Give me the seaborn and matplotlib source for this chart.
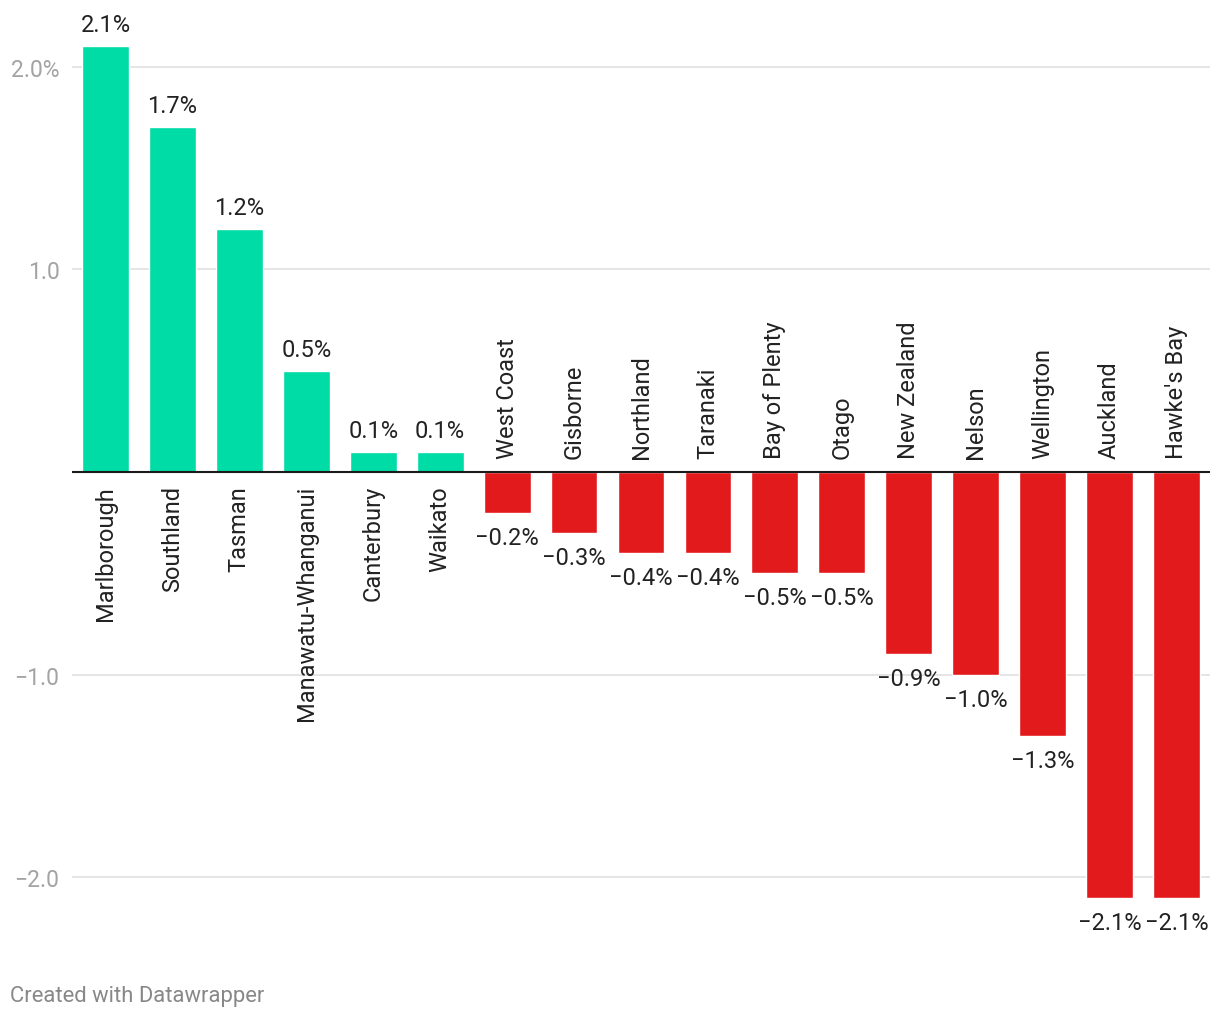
import matplotlib
matplotlib.use("Agg")
import matplotlib.pyplot as plt
import seaborn as sns
import pandas as pd

regions = ["Marlborough", "Southland", "Tasman", "Manawatu-Whanganui", "Canterbury",
           "Waikato", "West Coast", "Gisborne", "Northland", "Taranaki", "Bay of Plenty",
           "Otago", "New Zealand", "Nelson", "Wellington", "Auckland", "Hawke's Bay"]
values = [2.1, 1.7, 1.2, 0.5, 0.1, 0.1, -0.2, -0.3, -0.4, -0.4, -0.5, -0.5,
          -0.9, -1.0, -1.3, -2.1, -2.1]
ytick_vals = [-2.0, -1.0, 1.0, 2.0]
ytick_labels = ["\u22122.0", "\u22121.0", "1.0", "2.0%"]

GREEN = "#00dca6"
RED = "#e31a1c"

sns.set_theme(style="white")
plt.rcParams['font.family'] = ['Roboto', 'DejaVu Sans']

df = pd.DataFrame({"region": regions, "value": values})
df["sign"] = ["pos" if v >= 0 else "neg" for v in values]

fig = plt.figure(figsize=(12.2, 10.2), dpi=100)
ax = fig.add_axes([72 / 1220, 80 / 1020, (1210 - 72) / 1220, (1012 - 80) / 1020])

sns.barplot(data=df, x="region", y="value", hue="sign",
            palette={"pos": GREEN, "neg": RED}, width=0.70,
            dodge=False, legend=False, ax=ax, saturation=1)

unit = 202.7
ax.set_ylim(-(940 - 473) / unit, (473 - 8) / unit)
ax.set_xlim(-0.5, len(regions) - 0.5)

ax.set_yticks(ytick_vals)
ax.set_yticklabels(ytick_labels)
ax.tick_params(axis="y", length=0, pad=9, labelsize=16.5, labelcolor="#a3a3a3")
ax.set_xticks([])
ax.set_xlabel("")
ax.set_ylabel("")
for s in ax.spines.values():
    s.set_visible(False)
for yv in ytick_vals:
    ax.axhline(yv, color="#e3e3e3", lw=1.3, zorder=0)
ax.axhline(0, color="#1a1a1a", lw=1.5, zorder=3)

FS = 17
px = 1.0 / unit
for i, (r, v) in enumerate(zip(regions, values)):
    lab = ("\u2212" if v < 0 else "") + f"{abs(v):.1f}%"
    if v >= 0:
        ax.text(i, v + 10 * px, lab, ha="center", va="bottom", fontsize=FS, color="#222222")
        ax.text(i, -13 * px, r, ha="center", va="top", rotation=90, fontsize=FS, color="#222222")
    else:
        ax.text(i, v - 13 * px, lab, ha="center", va="top", fontsize=FS, color="#222222")
        ax.text(i, 14 * px, r, ha="center", va="bottom", rotation=90, fontsize=FS, color="#222222")

fig.text(10 / 1220, 1 - 997 / 1020, "Created with Datawrapper", ha="left", va="center",
         fontsize=15.8, color="#888888")

fig.savefig("out.png", dpi=100)
